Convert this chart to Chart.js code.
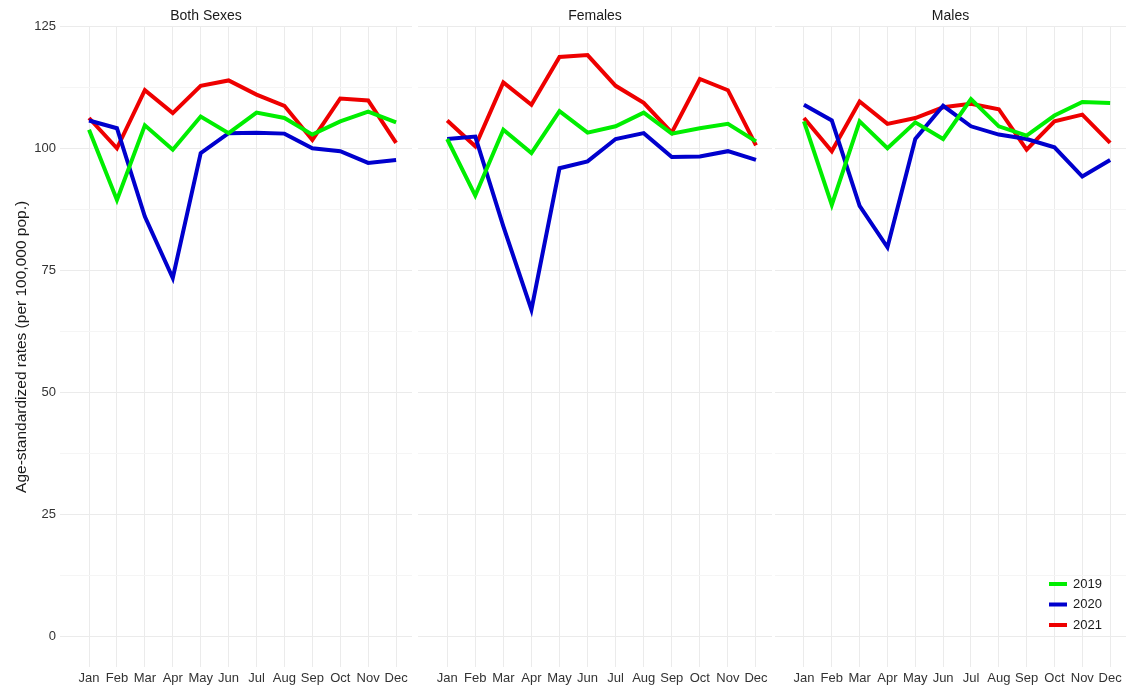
<!DOCTYPE html>
<html lang="en">
<head>
<meta charset="UTF-8">
<title>Age-standardized rates by month</title>
<script src="https://cdn.jsdelivr.net/npm/chart.js"></script>
<style>
  body { margin: 0; background: #fff; }
  canvas { position: absolute; top: 0; }
</style>
</head>
<body>
<canvas id="bothChart" width="412" height="689" style="left:0px"></canvas>
<canvas id="femaleChart" width="354" height="689" style="left:418px"></canvas>
<canvas id="maleChart" width="351" height="689" style="left:775px"></canvas>

<script>
// ---- data ----
const months = ['Jan', 'Feb', 'Mar', 'Apr', 'May', 'Jun', 'Jul', 'Aug', 'Sep', 'Oct', 'Nov', 'Dec'];
const years = ['2019', '2020', '2021'];
const yTicks = [0, 12.5, 25, 37.5, 50, 62.5, 75, 87.5, 100, 112.5, 125];

const both2019 = [103.9, 89.5, 104.8, 99.8, 106.6, 103.2, 107.4, 106.3, 102.9, 105.6, 107.6, 105.4];
const both2020 = [105.8, 104.2, 86.1, 73.5, 99.1, 103.2, 103.3, 103.1, 100.1, 99.5, 97.1, 97.7];
const both2021 = [106.3, 100.1, 112.0, 107.3, 112.9, 114.0, 111.1, 108.8, 101.8, 110.3, 109.9, 101.2];

const females2019 = [102.0, 90.4, 103.9, 99.1, 107.7, 103.3, 104.6, 107.4, 103.1, 104.2, 105.1, 101.5];
const females2020 = [102.0, 102.5, 84.1, 67.0, 96.0, 97.4, 102.0, 103.2, 98.3, 98.4, 99.5, 97.7];
const females2021 = [105.8, 100.5, 113.6, 109.0, 118.8, 119.2, 112.9, 109.4, 103.3, 114.3, 112.0, 100.7];

const males2019 = [105.6, 88.5, 105.6, 100.1, 105.4, 102.0, 110.2, 104.6, 102.7, 106.8, 109.6, 109.4];
const males2020 = [109.0, 105.8, 88.3, 79.8, 102.0, 108.8, 104.6, 102.9, 102.0, 100.3, 94.3, 97.7];
const males2021 = [106.3, 99.5, 109.7, 105.1, 106.3, 108.5, 109.2, 108.1, 99.8, 105.6, 107.0, 101.2];

const yearColors = ['#00ee00', '#0000cd', '#ee0000'];
const fontFamily = "'Liberation Sans', Arial, sans-serif";

// legend drawn inside the plot area (bottom right), like the original
const insideLegend = {
  id: 'insideLegend',
  afterDraw(chart, args, opts) {
    if (!opts.show) return;
    const ctx = chart.ctx;
    const area = chart.chartArea;
    ctx.save();
    ctx.font = '13px ' + fontFamily;
    ctx.textBaseline = 'middle';
    chart.data.datasets.forEach((ds, i) => {
      const y = area.bottom - 83 + i * 20.5;
      ctx.fillStyle = ds.borderColor;
      ctx.fillRect(area.right - 77, y - 2, 18, 4);
      ctx.fillStyle = '#1a1a1a';
      ctx.fillText(ds.label, area.right - 53, y);
    });
    ctx.restore();
  }
};

function makeDatasets(series) {
  return series.map((values, i) => ({
    label: years[i],
    data: values.map((v, m) => ({ x: m, y: v })),
    borderColor: yearColors[i],
    backgroundColor: yearColors[i],
    borderWidth: 4,
    pointRadius: 0,
    tension: 0,
    fill: false
  }));
}

function renderPanel(canvasId, title, series, firstPanel, lastPanel) {
  const ctx = document.getElementById(canvasId).getContext('2d');
  return new Chart(ctx, {
    type: 'line',
    data: { datasets: makeDatasets(series) },
    options: {
      responsive: false,
      animation: false,
      layout: { padding: 0 },
      plugins: {
        legend: { display: false },
        tooltip: { enabled: false },
        title: {
          display: true,
          text: title,
          color: '#1a1a1a',
          font: { size: 14, family: fontFamily, weight: 400 },
          padding: { top: 8, bottom: 2 }
        },
        insideLegend: { show: lastPanel }
      },
      scales: {
        x: {
          type: 'linear',
          min: -1.04,
          max: 11.57,
          afterBuildTicks: (scale) => { scale.ticks = months.map((m, i) => ({ value: i })); },
          afterFit: (scale) => { scale.height = 22; },
          ticks: {
            autoSkip: false,
            maxRotation: 0,
            padding: 4,
            color: '#333333',
            font: { size: 13, family: fontFamily },
            callback: (v) => months[v]
          },
          grid: { color: '#ebebeb', lineWidth: 1, drawTicks: false },
          border: { display: false }
        },
        y: {
          min: -6.25,
          max: 125,
          afterBuildTicks: (scale) => { scale.ticks = yTicks.map(v => ({ value: v })); },
          afterFit: (scale) => { scale.width = firstPanel ? 60 : 0; },
          ticks: {
            display: firstPanel,
            padding: 4,
            color: '#333333',
            font: { size: 13, family: fontFamily },
            callback: (v) => (v % 25 === 0 ? v : '')
          },
          grid: {
            drawTicks: false,
            lineWidth: 1,
            color: (c) => (c.tick && c.tick.value % 25 === 0 ? '#ebebeb' : '#f5f5f5')
          },
          border: { display: false },
          title: {
            display: firstPanel,
            text: 'Age-standardized rates (per 100,000 pop.)',
            color: '#1a1a1a',
            font: { size: 15.5, family: fontFamily },
            padding: { top: 12, bottom: 0 }
          }
        }
      }
    },
    plugins: [insideLegend]
  });
}

renderPanel('bothChart', 'Both Sexes', [both2019, both2020, both2021], true, false);
renderPanel('femaleChart', 'Females', [females2019, females2020, females2021], false, false);
renderPanel('maleChart', 'Males', [males2019, males2020, males2021], false, true);
</script>
</body>
</html>
